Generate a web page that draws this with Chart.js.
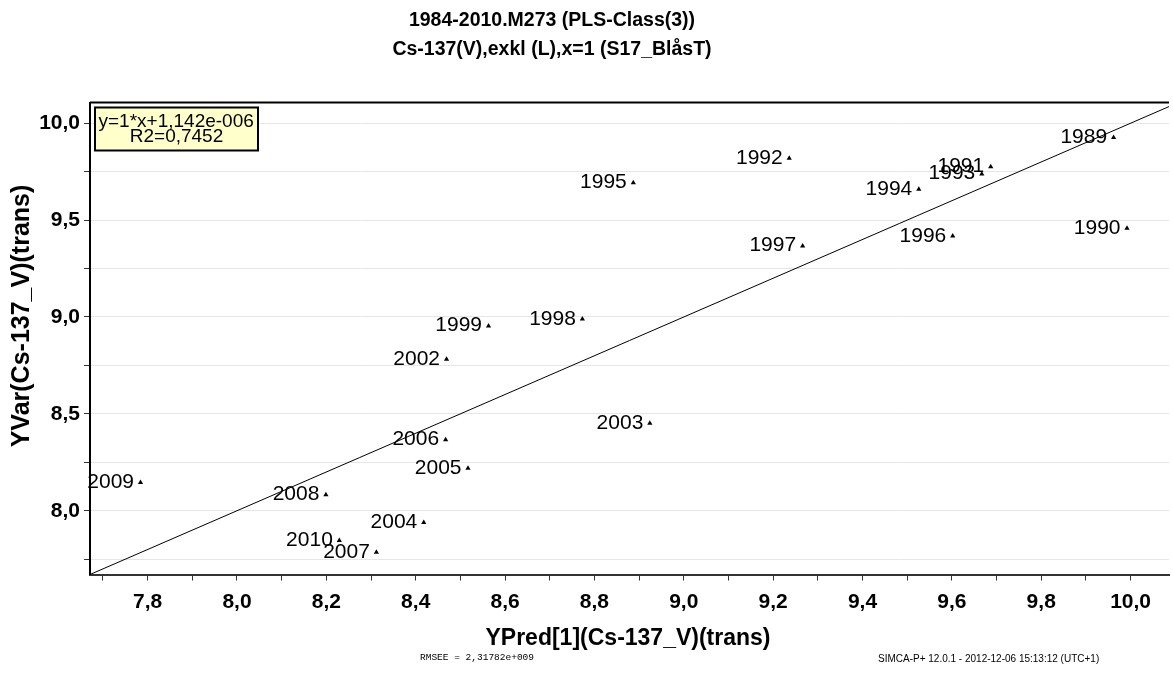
<!DOCTYPE html>
<html>
<head>
<meta charset="utf-8">
<title>1984-2010.M273 (PLS-Class(3))</title>
<script src="https://cdn.jsdelivr.net/npm/chart.js@4.4.1/dist/chart.umd.min.js"></script>
<style>
  html, body { margin: 0; padding: 0; background: #ffffff; }
  #wrap { width: 1173px; height: 691px; }
</style>
</head>
<body>
<div id="wrap"><canvas id="chart" width="1173" height="691"></canvas></div>
<script>
// Observation labels (years) and their predicted / observed values
const years = ['1989', '1990', '1991', '1992', '1993', '1994', '1995', '1996', '1997', '1998',
               '1999', '2002', '2003', '2004', '2005', '2006', '2007', '2008', '2009', '2010'];
const yPred = [9.962, 9.992, 9.687, 9.236, 9.667, 9.526, 8.887, 9.602, 9.266, 8.773,
               8.563, 8.469, 8.924, 8.418, 8.517, 8.467, 8.312, 8.199, 7.784, 8.229];
const yVar  = [9.926, 9.458, 9.776, 9.819, 9.738, 9.659, 9.693, 9.418, 9.367, 8.989,
               8.954, 8.782, 8.452, 7.939, 8.220, 8.366, 7.786, 8.082, 8.146, 7.846];

// Fitted line y = slope * x + intercept
const fitSlope = [1];
const fitIntercept = [1.142e-6];
const fitText = ['y=1*x+1,142e-006', 'R2=0,7452'];

// Axis ranges and tick positions
const xRange = [7.671, 10.086];
const yRange = [7.671, 10.107];
const xTicks = [7.7, 7.8, 7.9, 8.0, 8.1, 8.2, 8.3, 8.4, 8.5, 8.6, 8.7, 8.8, 8.9,
                9.0, 9.1, 9.2, 9.3, 9.4, 9.5, 9.6, 9.7, 9.8, 9.9, 10.0];
const yTicks = [7.75, 8.0, 8.25, 8.5, 8.75, 9.0, 9.25, 9.5, 9.75, 10.0];

const titleLines = ['1984-2010.M273 (PLS-Class(3))', 'Cs-137(V),exkl (L),x=1 (S17_BlåsT)'];
const xTitle = 'YPred[1](Cs-137_V)(trans)';
const yTitle = 'YVar(Cs-137_V)(trans)';
const footLeft = 'RMSEE = 2,31782e+009';
const footRight = 'SIMCA-P+ 12.0.1 - 2012-12-06 15:13:12 (UTC+1)';

const SANS = "'Liberation Sans', Arial, sans-serif";
const MONO = "'Liberation Mono', 'Courier New', monospace";

const points = yPred.map((x, i) => ({ x: x, y: yVar[i] }));
const fitLine = xRange.map(x => ({ x: x, y: fitSlope[0] * x + fitIntercept[0] }));

const fmt = v => v.toFixed(1).replace('.', ',');

// Background, titles, point labels, fit box and footer
const decorations = {
  id: 'decorations',
  beforeDraw(chart) {
    const ctx = chart.ctx;
    ctx.save();
    ctx.fillStyle = '#ffffff';
    ctx.fillRect(0, 0, chart.width, chart.height);
    ctx.restore();
  },
  afterDatasetsDraw(chart) {
    const ctx = chart.ctx;
    const xs = chart.scales.x, ys = chart.scales.y;
    const area = chart.chartArea;
    ctx.save();

    // year labels to the left of each marker
    ctx.font = '21px ' + SANS;
    ctx.fillStyle = '#000';
    ctx.textAlign = 'right';
    ctx.textBaseline = 'alphabetic';
    years.forEach((yr, i) => {
      const px = xs.getPixelForValue(yPred[i]);
      const py = ys.getPixelForValue(yVar[i]);
      ctx.fillText(yr, px - 6.5, py + 5.5);
    });

    // top frame line
    ctx.strokeStyle = '#000';
    ctx.lineWidth = 2;
    ctx.beginPath();
    ctx.moveTo(area.left, area.top);
    ctx.lineTo(area.right, area.top);
    ctx.stroke();

    // fit equation box
    const bx = area.left + 5, by = area.top + 5, bw = 163, bh = 43;
    ctx.fillStyle = '#ffffcc';
    ctx.fillRect(bx, by, bw, bh);
    ctx.lineWidth = 2;
    ctx.strokeStyle = '#000';
    ctx.strokeRect(bx, by, bw, bh);
    ctx.fillStyle = '#000';
    ctx.font = '19px ' + SANS;
    ctx.textAlign = 'left';
    ctx.fillText(fitText[0], bx + 3.5, by + 19);
    ctx.textAlign = 'center';
    ctx.fillText(fitText[1], bx + bw / 2, by + 34.5);
    ctx.restore();
  },
  afterDraw(chart) {
    const ctx = chart.ctx;
    ctx.save();
    ctx.fillStyle = '#000';
    ctx.textAlign = 'center';
    ctx.textBaseline = 'middle';

    ctx.font = 'bold 19.5px ' + SANS;
    ctx.fillText(titleLines[0], 552, 21);
    ctx.fillText(titleLines[1], 552, 50);

    ctx.font = 'bold 23px ' + SANS;
    ctx.fillText(xTitle, 628, 639);

    ctx.font = 'bold 25px ' + SANS;
    ctx.save();
    ctx.translate(22, 316);
    ctx.rotate(-Math.PI / 2);
    ctx.fillText(yTitle, 0, 0);
    ctx.restore();

    ctx.font = '9.5px ' + MONO;
    ctx.fillText(footLeft, 477, 657);
    ctx.font = '10px ' + SANS;
    ctx.textAlign = 'left';
    ctx.fillText(footRight, 878, 659);
    ctx.restore();
  }
};

new Chart(document.getElementById('chart'), {
  type: 'scatter',
  data: {
    datasets: [
      {
        label: 'fit',
        type: 'line',
        data: fitLine,
        showLine: true,
        borderColor: '#000',
        borderWidth: 1,
        pointRadius: 0,
        fill: false,
        order: 2
      },
      {
        label: 'obs',
        data: points,
        pointStyle: 'triangle',
        pointRadius: 3,
        backgroundColor: '#000',
        borderColor: '#000',
        borderWidth: 0,
        order: 1
      }
    ]
  },
  options: {
    responsive: false,
    animation: false,
    devicePixelRatio: 1,
    layout: { padding: { top: 102.5, left: 0, right: 0, bottom: 0 } },
    plugins: {
      legend: { display: false },
      tooltip: { enabled: false },
      title: { display: false }
    },
    scales: {
      x: {
        type: 'linear',
        min: xRange[0],
        max: xRange[1],
        afterBuildTicks: s => { s.ticks = xTicks.map(v => ({ value: v })); },
        afterFit: s => { s.height = 116.5; },
        border: { display: true, color: '#333', width: 2 },
        grid: { display: true, drawOnChartArea: false, tickLength: 6, tickColor: '#333', tickWidth: 1 },
        ticks: {
          autoSkip: false,
          maxRotation: 0,
          padding: 9,
          color: '#000',
          font: { family: SANS, size: 21, weight: 'bold' },
          callback: v => (Math.round(v * 10) % 2 === 0 ? fmt(v) : '')
        }
      },
      y: {
        type: 'linear',
        min: yRange[0],
        max: yRange[1],
        afterBuildTicks: s => { s.ticks = yTicks.map(v => ({ value: v })); },
        afterFit: s => { s.width = 90; },
        border: { display: true, color: '#000', width: 2 },
        grid: { display: true, color: '#e6e6e6', lineWidth: 1, tickLength: 6, tickColor: '#333', tickWidth: 1 },
        ticks: {
          autoSkip: false,
          padding: 4,
          color: '#000',
          font: { family: SANS, size: 21, weight: 'bold' },
          callback: v => (Math.abs(v * 2 - Math.round(v * 2)) < 1e-6 ? fmt(v) : '')
        }
      }
    }
  },
  plugins: [decorations]
});
</script>
</body>
</html>
